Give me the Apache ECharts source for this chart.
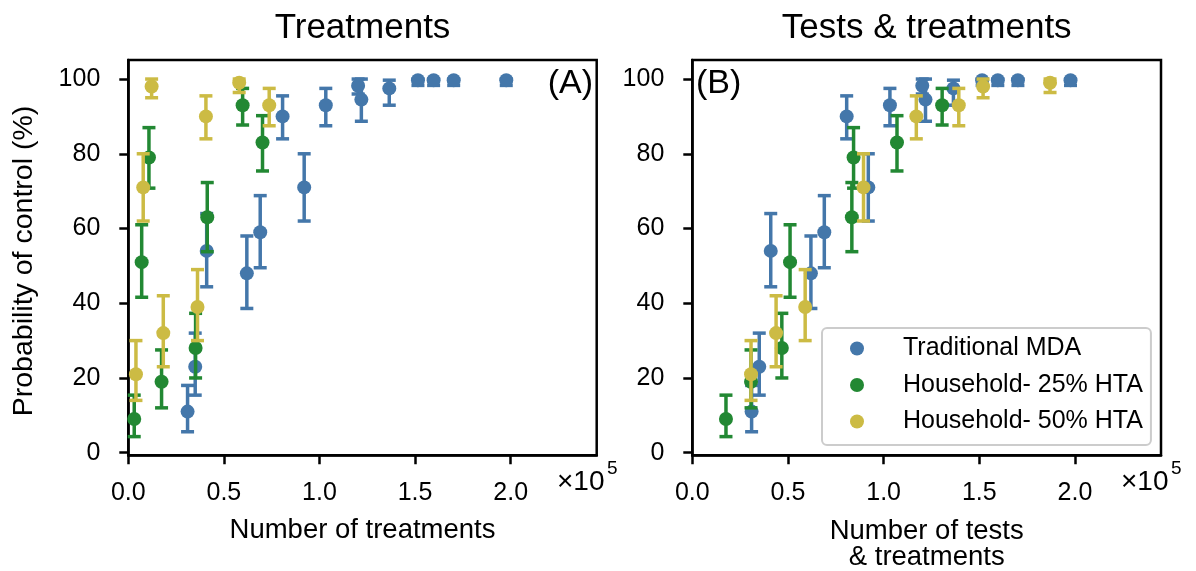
<!DOCTYPE html>
<html>
<head>
<meta charset="utf-8">
<script src="https://cdn.jsdelivr.net/npm/echarts@6/dist/echarts.min.js"></script>
<style>
  html, body { margin: 0; padding: 0; background: #fff; }
  #chart { width: 1196px; height: 571px; }
</style>
</head>
<body>
<div id="chart"></div>
<script>
// Traditional MDA (no tests, so same x on both panels)
const mdaTreat = [31000, 35000, 41000, 62000, 69000, 80700, 92000, 103300, 120200, 121900, 136500, 151500, 159700, 170200, 197700];
const mdaProb  = [11, 23, 54, 48, 59, 90, 71, 93, 98.2, 94.5, 97.5, 99.7, 99.7, 99.7, 99.7];
const mdaLow   = [5.6, 15.4, 44.4, 38.6, 49.5, 84, 62, 87.5, 96, 88.7, 93, 98.3, 98.3, 98.3, 98.3];
const mdaHigh  = [18, 32, 64, 58, 68.8, 95.5, 80, 97.5, 100, 100, 99.7, 100, 100, 100, 100];

// Household - 25% HTA
const hh25Treat = [3100, 7000, 10800, 17400, 35200, 41300, 59800, 70200];
const hh25Tests = [17600, 51100, 84300, 30700, 46800, 83400, 130600, 107000];
const hh25Prob  = [9, 51, 79, 19, 28, 63, 93, 83];
const hh25Low   = [4.3, 41.6, 70.8, 12, 20, 53.8, 87.7, 75.4];
const hh25High  = [15.4, 61, 87, 27.5, 37.3, 72.3, 97.5, 90.2];

// Household - 50% HTA
const hh50Treat = [4000, 7800, 12200, 18300, 36200, 40600, 58000, 73700];
const hh50Tests = [30700, 89500, 152000, 43800, 59000, 117100, 187000, 139300];
const hh50Prob  = [21, 71, 98, 32, 39, 90, 99, 93];
const hh50Low   = [14, 62, 95, 23, 30, 84, 96.4, 87.5];
const hh50High  = [30, 80, 100, 42, 49, 95.5, 100, 97.5];

const seriesNames = ['Traditional MDA', 'Household- 25% HTA', 'Household- 50% HTA'];
const colors = ['#4477AA', '#228833', '#CCBB44'];
const xTicks = [0, 50000, 100000, 150000, 200000];
const yTicks = [0, 20, 40, 60, 80, 100];

const FONT = 'Liberation Sans';

const renderErr = (params, api) => {
    let x = api.value(0);
    let top = api.coord([x, api.value(2)]);
    let bot = api.coord([x, api.value(1)]);
    let hw = 6.5;
    let st = { stroke: api.visual('color'), lineWidth: 3.5 };
    return {
        type: 'group',
        children: [
            { type: 'line', shape: { x1: top[0], y1: top[1], x2: bot[0], y2: bot[1] }, style: st },
            { type: 'line', shape: { x1: top[0] - hw, y1: top[1], x2: top[0] + hw, y2: top[1] }, style: st },
            { type: 'line', shape: { x1: bot[0] - hw, y1: bot[1], x2: bot[0] + hw, y2: bot[1] }, style: st }
        ]
    };
};

const xAxisFor = (gi) => ({
    type: 'value', gridIndex: gi, min: 0, max: 245000,
    axisLine: { show: true, onZero: false, lineStyle: { color: '#000', width: 2.5 } },
    axisTick: { show: true, length: 9, lineStyle: { color: '#000', width: 2.5 }, customValues: xTicks },
    axisLabel: { customValues: xTicks, margin: 25, color: '#000', fontSize: 25, fontFamily: FONT,
        formatter: v => (v / 1e5).toFixed(1) },
    splitLine: { show: false }
});

const yAxisFor = (gi) => ({
    type: 'value', gridIndex: gi, min: -0.7, max: 105.1,
    axisLine: { show: true, onZero: false, lineStyle: { color: '#000', width: 2.5 } },
    axisTick: { show: true, length: 9, lineStyle: { color: '#000', width: 2.5 }, customValues: yTicks },
    axisLabel: { customValues: yTicks, margin: 28, color: '#000', fontSize: 25, fontFamily: FONT },
    splitLine: { show: false }
});

const panel = (gi, xs) => {
    let out = [];
    xs.forEach((xv, k) => {
        let prob = [mdaProb, hh25Prob, hh50Prob][k];
        let low = [mdaLow, hh25Low, hh50Low][k];
        let high = [mdaHigh, hh25High, hh50High][k];
        out.push({
            name: 'err' + gi + k, type: 'custom', xAxisIndex: gi, yAxisIndex: gi,
            z: 2 + k * 2, itemStyle: { color: colors[k] },
            renderItem: renderErr, encode: { x: 0, y: [1, 2] },
            data: xv.map((v, i) => [v, low[i], high[i]])
        });
        out.push({
            name: seriesNames[k], type: 'scatter', xAxisIndex: gi, yAxisIndex: gi,
            z: 3 + k * 2, symbol: 'circle', symbolSize: 14,
            itemStyle: { color: colors[k], opacity: 1 },
            data: xv.map((v, i) => [v, prob[i]])
        });
    });
    return out;
};

const txt = (text, x, y, size, align, extra) => Object.assign({
    type: 'text', x: x, y: y,
    style: { text: text, fill: '#000', fontSize: size, fontFamily: FONT, align: align || 'center', verticalAlign: 'middle' }
}, extra || {});

let option = {
    animation: false,
    backgroundColor: '#fff',
    grid: [
        { left: 128.3, top: 60, width: 468.4, height: 395.3, show: true, borderColor: '#000', borderWidth: 2.5 },
        { left: 692.3, top: 60, width: 468.7, height: 395.3, show: true, borderColor: '#000', borderWidth: 2.5 }
    ],
    xAxis: [xAxisFor(0), xAxisFor(1)],
    yAxis: [yAxisFor(0), yAxisFor(1)],
    legend: {
        data: seriesNames,
        orient: 'vertical', left: 822, top: 328,
        padding: [8, 8, 11, 28], itemGap: 11.5,
        itemWidth: 40, itemHeight: 14, icon: 'circle',
        backgroundColor: 'rgba(255,255,255,0.8)', borderColor: '#cccccc', borderWidth: 2, borderRadius: 5,
        textStyle: { color: '#000', fontSize: 25, fontFamily: FONT, lineHeight: 24, padding: [0, 0, 0, 21] }
    },
    series: [].concat(panel(0, [mdaTreat, hh25Treat, hh50Treat]), panel(1, [mdaTreat, hh25Tests, hh50Tests])),
    graphic: [
        txt('Treatments', 362.5, 28, 35),
        txt('Tests & treatments', 926.7, 28, 35),
        txt('Probability of control (%)', 24, 261, 28.5, 'center', { rotation: Math.PI / 2 }),
        txt('Number of treatments', 362.5, 530, 27.5),
        { type: 'text', x: 926.7, y: 544, style: { text: 'Number of tests\n& treatments', fill: '#000', fontSize: 27.5,
            fontFamily: FONT, align: 'center', verticalAlign: 'middle', lineHeight: 26 } },
        txt('(A)', 593, 84, 34, 'right'),
        txt('(B)', 696, 84, 34, 'left'),
        txt('\u00d710', 557, 482, 28, 'left'),
        txt('5', 607, 469, 19, 'left'),
        txt('\u00d710', 1121, 482, 28, 'left'),
        txt('5', 1171, 469, 19, 'left')
    ]
};

let myChart = echarts.init(document.getElementById('chart'));
myChart.setOption(option);
</script>
</body>
</html>
